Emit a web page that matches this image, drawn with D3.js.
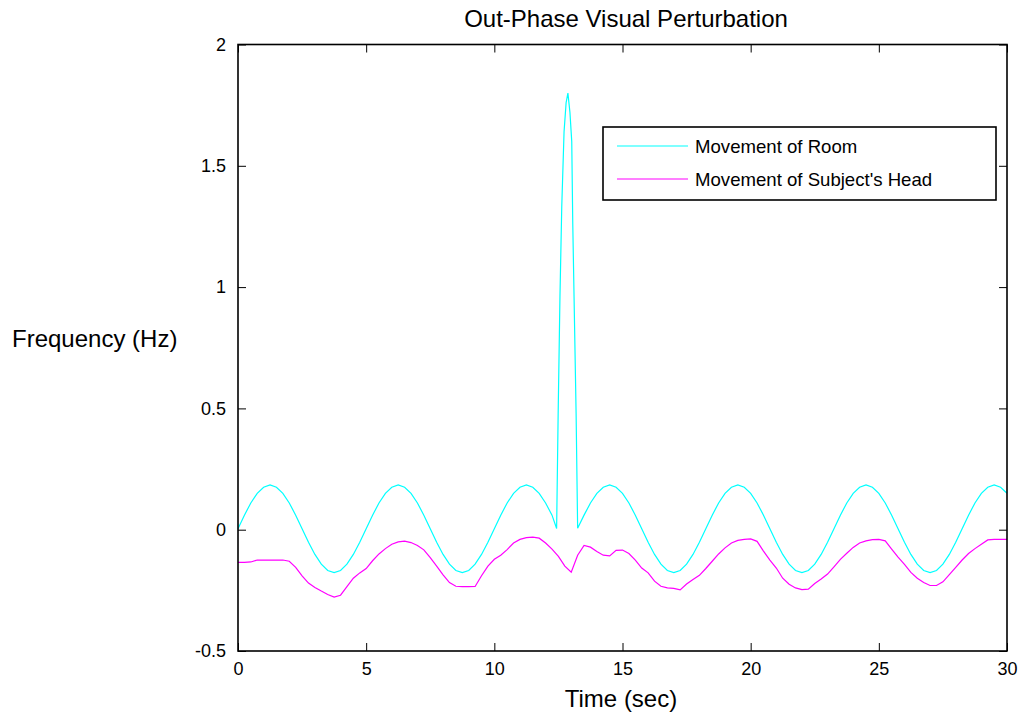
<!DOCTYPE html>
<html>
<head>
<meta charset="utf-8">
<script src="https://cdn.jsdelivr.net/npm/d3@7.9.0/dist/d3.min.js"></script>
<style>
  body { margin: 0; background: #fff; }
  svg { font-family: "Liberation Sans", Arial, Helvetica, sans-serif; }
  .tick line { stroke: #000; stroke-width: 1; }
</style>
</head>
<body>
<svg id="chart" width="1018" height="715"></svg>
<script>
// tick values
const xTicks = [0, 5, 10, 15, 20, 25, 30];
const yTicks = [-0.5, 0, 0.5, 1, 1.5, 2];

// room movement, sampled every 0.25 s from 0 to 12.25 s
const roomBefore = [
  0.004, 0.06, 0.11, 0.15, 0.175, 0.185, 0.175, 0.15, 0.11, 0.06,
  0.004, -0.052, -0.102, -0.142, -0.168, -0.177, -0.168, -0.142, -0.102, -0.052,
  0.004, 0.06, 0.11, 0.15, 0.175, 0.185, 0.175, 0.15, 0.11, 0.06,
  0.004, -0.052, -0.102, -0.142, -0.168, -0.177, -0.168, -0.142, -0.102, -0.052,
  0.004, 0.06, 0.11, 0.15, 0.175, 0.185, 0.175, 0.15, 0.11, 0.06
];
// the spike around 12.9 s (irregular times)
const spikeT = [12.43, 12.49, 12.56, 12.63, 12.72, 12.80, 12.87, 12.95, 13.02, 13.06, 13.11, 13.19];
const spikeV = [0.005, 0.48, 0.96, 1.33, 1.64, 1.76, 1.80, 1.72, 1.60, 1.26, 0.96, 0.48];
// room movement again, every 0.25 s from 13.25 s to 30 s
const roomAfter = [
  0.006, 0.06, 0.11, 0.15, 0.175, 0.185, 0.175, 0.15, 0.11, 0.06,
  0.004, -0.052, -0.102, -0.142, -0.168, -0.177, -0.168, -0.142, -0.102, -0.052,
  0.004, 0.06, 0.11, 0.15, 0.175, 0.185, 0.175, 0.15, 0.11, 0.06,
  0.004, -0.052, -0.102, -0.142, -0.168, -0.177, -0.168, -0.142, -0.102, -0.052,
  0.004, 0.06, 0.11, 0.15, 0.175, 0.185, 0.175, 0.15, 0.11, 0.06,
  0.004, -0.052, -0.102, -0.142, -0.168, -0.177, -0.168, -0.142, -0.102, -0.052,
  0.004, 0.06, 0.11, 0.15, 0.175, 0.185, 0.175, 0.15
];

// subject's head, every 0.25 s from 0 to 30 s
const headV = [
  -0.135, -0.135, -0.133, -0.125, -0.125, -0.125, -0.125, -0.125, -0.13, -0.155,
  -0.19, -0.22, -0.238, -0.253, -0.267, -0.278, -0.27, -0.235, -0.2, -0.178,
  -0.16, -0.128, -0.1, -0.078, -0.06, -0.05, -0.047, -0.053, -0.065, -0.083,
  -0.115, -0.15, -0.186, -0.218, -0.233, -0.235, -0.235, -0.234, -0.19, -0.15,
  -0.122, -0.105, -0.082, -0.055, -0.04, -0.033, -0.031, -0.035, -0.055, -0.08,
  -0.11, -0.15, -0.175, -0.105, -0.065, -0.072, -0.09, -0.105, -0.108, -0.085,
  -0.084, -0.098, -0.125, -0.158, -0.178, -0.212, -0.233, -0.24, -0.242, -0.248,
  -0.224, -0.205, -0.188, -0.16, -0.13, -0.1, -0.075, -0.055, -0.044, -0.04,
  -0.038, -0.048, -0.088, -0.125, -0.158, -0.2, -0.225, -0.24, -0.247, -0.245,
  -0.222, -0.203, -0.183, -0.153, -0.122, -0.097, -0.073, -0.055, -0.046, -0.041,
  -0.04, -0.046, -0.08, -0.113, -0.143, -0.176, -0.2, -0.218, -0.23, -0.23,
  -0.215, -0.185, -0.155, -0.125, -0.098, -0.078, -0.06, -0.042, -0.04, -0.04,
  -0.04
];
const step = 0.25;

const series = [
  { label: "Movement of Room", color: "#00ffff" },
  { label: "Movement of Subject's Head", color: "#ff00ff" }
];

// build point lists
let room = roomBefore.map((v, i) => [i * step, v]);
spikeT.forEach((t, i) => room.push([t, spikeV[i]]));
roomAfter.forEach((v, i) => room.push([13.25 + i * step, v]));
let head = headV.map((v, i) => [i * step, v]);

const svg = d3.select("#chart");
const plotLeft = 238, plotRight = 1007, plotTop = 44.5, plotBottom = 651;

const x = d3.scaleLinear().domain([0, 30]).range([plotLeft, plotRight]);
const y = d3.scaleLinear().domain([-0.5, 2]).range([plotBottom, plotTop]);

// axes with inward ticks on all four sides
svg.append("g")
  .attr("transform", `translate(0,${plotBottom})`)
  .call(d3.axisBottom(x).tickValues(xTicks).tickSizeInner(-8).tickSizeOuter(0).tickPadding(11).tickFormat(d => String(d)))
  .call(g => g.select(".domain").remove())
  .call(g => g.selectAll("text").attr("font-size", 18).attr("fill", "#000"))
  .attr("font-family", null);

svg.append("g")
  .attr("transform", `translate(0,${plotTop})`)
  .call(d3.axisTop(x).tickValues(xTicks).tickSizeInner(-8).tickSizeOuter(0).tickFormat(""))
  .call(g => g.select(".domain").remove());

svg.append("g")
  .attr("transform", `translate(${plotLeft},0)`)
  .call(d3.axisLeft(y).tickValues(yTicks).tickSizeInner(-8).tickSizeOuter(0).tickPadding(12).tickFormat(d => String(d)))
  .call(g => g.select(".domain").remove())
  .call(g => g.selectAll("text").attr("font-size", 18).attr("fill", "#000"))
  .attr("font-family", null);

svg.append("g")
  .attr("transform", `translate(${plotRight},0)`)
  .call(d3.axisRight(y).tickValues(yTicks).tickSizeInner(-8).tickSizeOuter(0).tickFormat(""))
  .call(g => g.select(".domain").remove());

// lines
const line = d3.line().x(d => x(d[0])).y(d => y(d[1]));

svg.append("path")
  .datum(room)
  .attr("d", line)
  .attr("fill", "none")
  .attr("stroke", series[0].color)
  .attr("stroke-width", 1.2);

svg.append("path")
  .datum(head)
  .attr("d", line)
  .attr("fill", "none")
  .attr("stroke", series[1].color)
  .attr("stroke-width", 1.2);

// plot box
svg.append("rect")
  .attr("x", plotLeft).attr("y", plotTop)
  .attr("width", plotRight - plotLeft).attr("height", plotBottom - plotTop)
  .attr("fill", "none")
  .attr("stroke", "#000")
  .attr("stroke-width", 1.6);

// legend
const legend = svg.append("g").attr("transform", "translate(603,127)");
legend.append("rect")
  .attr("width", 393).attr("height", 73)
  .attr("fill", "#fff")
  .attr("stroke", "#000")
  .attr("stroke-width", 1.6);

legend.selectAll("g.item")
  .data(series)
  .enter()
  .append("g")
  .attr("class", "item")
  .attr("transform", (d, i) => `translate(0,${19 + i * 33})`)
  .each(function(d) {
    let g = d3.select(this);
    g.append("line")
      .attr("x1", 14).attr("x2", 85)
      .attr("stroke", d.color).attr("stroke-width", 1.2);
    g.append("text")
      .attr("x", 92).attr("y", 6.5)
      .attr("font-size", 18.6)
      .text(d.label);
  });

// titles
svg.append("text")
  .attr("x", 626).attr("y", 27)
  .attr("text-anchor", "middle")
  .attr("font-size", 24)
  .text("Out-Phase Visual Perturbation");

svg.append("text")
  .attr("x", 621).attr("y", 707)
  .attr("text-anchor", "middle")
  .attr("font-size", 24)
  .text("Time (sec)");

svg.append("text")
  .attr("x", 12).attr("y", 347)
  .attr("font-size", 24)
  .text("Frequency (Hz)");
</script>
</body>
</html>
